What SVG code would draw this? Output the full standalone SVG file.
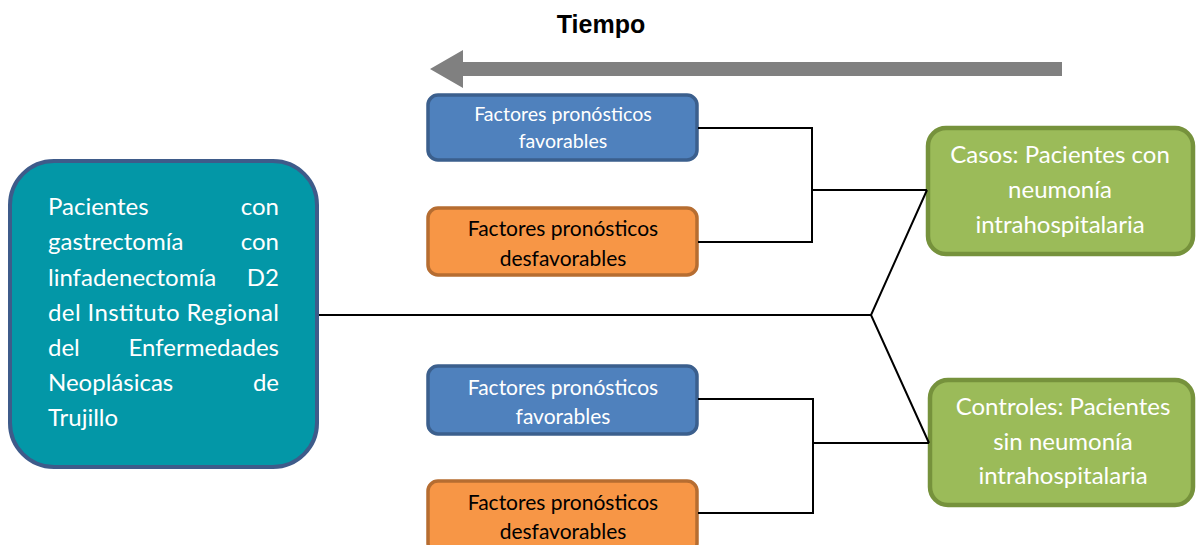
<svg xmlns="http://www.w3.org/2000/svg" width="1196" height="545" viewBox="0 0 1196 545">
<style>
.t{font-family:Lato,"Open Sans","Liberation Sans",sans-serif;}
.w{fill:#ffffff;}
.k{fill:#000000;}
.c{text-anchor:middle;}
.e{text-anchor:end;}
.blue{fill:#4f81bd;stroke:#3b5f8d;stroke-width:3.5;}
.orange{fill:#f79646;stroke:#b66d31;stroke-width:3.5;}
.green{fill:#9bbb59;stroke:#76923c;stroke-width:4.5;}
.conn{fill:none;stroke:#000;stroke-width:2;}
</style>
<g id="tiempo">
<text x="601" y="33" class="c" font-family="Liberation Sans,Arial,sans-serif" font-weight="bold" font-size="25">Tiempo</text>
<path d="M1062,62 L463,62 L463,50 L430,69 L463,88 L463,76 L1062,76 Z" fill="#808080"/>
</g>
<g id="poblacion">
<rect x="10" y="161" width="307" height="306" rx="44" ry="44" fill="#0397a7" stroke="#3e5b8a" stroke-width="4"/>
<g class="t w" font-size="24">
<text x="48" y="215">Pacientes</text><text x="279" y="215" class="e">con</text>
<text x="48" y="250">gastrectomía</text><text x="279" y="250" class="e">con</text>
<text x="48" y="286">linfadenectomía</text><text x="279" y="286" class="e">D2</text>
<text x="48" y="321" textLength="231" lengthAdjust="spacing">del Instituto Regional</text>
<text x="48" y="356">del</text><text x="279" y="356" class="e">Enfermedades</text>
<text x="48" y="391">Neoplásicas</text><text x="279" y="391" class="e">de</text>
<text x="48" y="426">Trujillo</text>
</g>
</g>
<g id="fav1">
<rect x="428" y="95" width="269" height="65" rx="10" ry="10" class="blue"/>
<text class="t w c" font-size="19.6" x="563" y="121">Factores pronósticos</text>
<text class="t w c" font-size="19.6" x="563" y="148">favorables</text>
</g>
<g id="desfav1">
<rect x="428" y="208" width="269" height="67" rx="10" ry="10" class="orange"/>
<text class="t k c" font-size="21" x="563" y="236">Factores pronósticos</text>
<text class="t k c" font-size="21" x="563" y="266">desfavorables</text>
</g>
<g id="fav2">
<rect x="428" y="366" width="269" height="68" rx="10" ry="10" class="blue"/>
<text class="t w c" font-size="21" x="563" y="395">Factores pronósticos</text>
<text class="t w c" font-size="21" x="563" y="424">favorables</text>
</g>
<g id="desfav2">
<rect x="428" y="481" width="269" height="72" rx="10" ry="10" class="orange"/>
<text class="t k c" font-size="21" x="563" y="510">Factores pronósticos</text>
<text class="t k c" font-size="21" x="563" y="539">desfavorables</text>
</g>
<g id="casos">
<rect x="928" y="128" width="265" height="126" rx="18" ry="18" class="green"/>
<text class="t w c" font-size="24" x="1060" y="163">Casos: Pacientes con</text>
<text class="t w c" font-size="24" x="1060" y="198">neumonía</text>
<text class="t w c" font-size="24" x="1060" y="233">intrahospitalaria</text>
</g>
<g id="controles">
<rect x="930" y="380" width="263" height="125" rx="18" ry="18" class="green"/>
<text class="t w c" font-size="24" x="1063" y="415">Controles: Pacientes</text>
<text class="t w c" font-size="24" x="1063" y="450">sin neumonía</text>
<text class="t w c" font-size="24" x="1063" y="484">intrahospitalaria</text>
</g>
<g id="connectors" class="conn">
<path d="M319,315 L871,315"/>
<path d="M927,190 L871,315 L929,443"/>
<path d="M698,128 L812,128 L812,242 L698,242"/>
<path d="M812,190 L927,190"/>
<path d="M698,399 L813,399 L813,513 L698,513"/>
<path d="M813,443 L929,443"/>
</g>
</svg>
